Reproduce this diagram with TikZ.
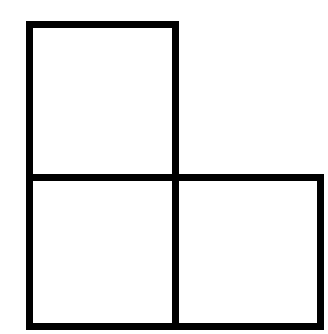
\documentclass[tikz,border=0pt]{standalone}
\begin{document}
\begin{tikzpicture}[x=1pt,y=-1pt,cell/.style={draw=black,line width=7pt,line join=miter}]
\useasboundingbox (0,0) rectangle (328,334);
\fill[white] (0,0) rectangle (328,334);
\draw[cell] (29,25) rectangle (175,177);
\draw[cell] (29,177) rectangle (175,326);
\draw[cell] (175,177) rectangle (320,326);
\coordinate (c) at (175,177);
\end{tikzpicture}
\end{document}
